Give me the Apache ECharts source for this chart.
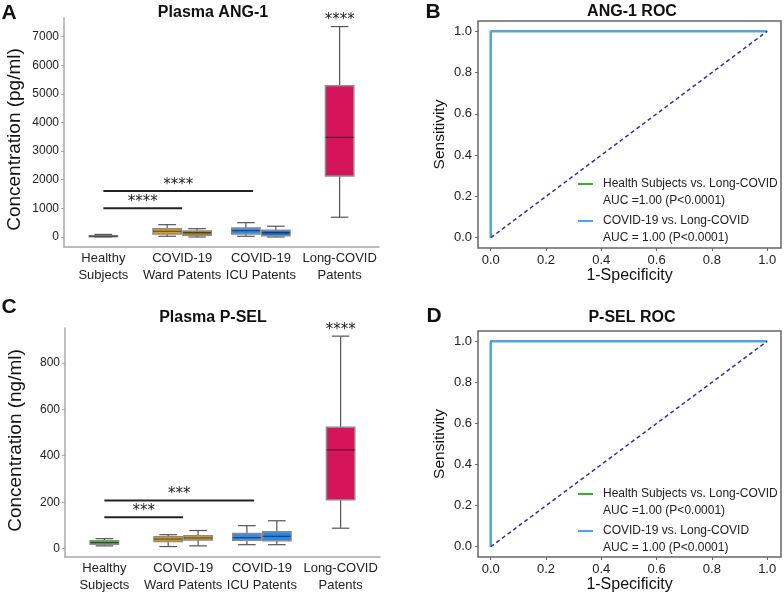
<!DOCTYPE html>
<html>
<head>
<meta charset="utf-8">
<script src="https://cdn.jsdelivr.net/npm/echarts@6/dist/echarts.min.js"></script>
<style>html,body{margin:0;padding:0;background:#fff}#c{width:784px;height:594px}</style>
</head>
<body>
<div id="c"></div>
<script>
// ---------------- data ----------------
const categories = ['Healthy\nSubjects', 'COVID-19\nWard Patents', 'COVID-19\nICU Patents', 'Long-COVID\nPatents'];
// box values: [min, Q1, median, Q3, max]
const ang1Healthy = [0, 10, 25, 45, 90];
const ang1Ward = [25, 105, 200, 290, 430];
const ang1WardB = [0, 60, 150, 210, 290];
const ang1Icu = [25, 105, 220, 315, 500];
const ang1IcuB = [0, 45, 150, 235, 375];
const ang1Long = [690, 2130, 3480, 5280, 7350];

const pselHealthy = [12, 19, 26, 34, 43];
const pselWard = [9, 31, 41, 51, 60];
const pselWardB = [12, 37, 46, 56, 78];
const pselIcu = [17, 36, 47, 65, 99];
const pselIcuB = [17, 34, 53, 73, 120];
const pselLong = [88, 210, 425, 523, 915];

const boxCategory = [0, 1, 1, 2, 2, 3];
const ang1Ticks = [0, 1000, 2000, 3000, 4000, 5000, 6000, 7000];
const pselTicks = [0, 200, 400, 600, 800];
const rocTicks = [0, 0.2, 0.4, 0.6, 0.8, 1.0];

// significance brackets: [fromCategory, toCategory, yValue]
const ang1Sig = [[0, 1, 1000], [0, 2, 1610]];
const ang1SigLabels = ['****', '****'];
const pselSig = [[0, 1, 135], [0, 2, 207]];
const pselSigLabels = ['***', '***'];
const ang1BoxStars = ['', '', '', '', '', '****'];
const pselBoxStars = ['', '', '', '', '', '****'];

// ROC curves [1-specificity, sensitivity]
const rocHealthyAng1 = [[0, 0], [0, 1], [1, 1]];
const rocCovidAng1 = [[0, 0], [0, 1], [1, 1]];
const rocHealthyPsel = [[0, 0], [0, 1], [1, 1]];
const rocCovidPsel = [[0, 0], [0, 1], [1, 1]];
const chanceLine = [[0, 0], [1, 1]];
const rocNames = ['Health Subjects vs. Long-COVID', 'COVID-19 vs. Long-COVID'];
const aucAng1 = ['AUC =1.00 (P<0.0001)', 'AUC = 1.00 (P<0.0001)'];
const aucPsel = ['AUC =1.00 (P<0.0001)', 'AUC = 1.00 (P<0.0001)'];

// ---------------- styling ----------------
const FONT = 'Liberation Sans';
const boxOffsets = [0, -0.19, 0.19, -0.19, 0.19, 0];
const sigEndInset = [0, 0.1];
const ang1Colors = ['#3db02a', '#e0a214', '#a27a1c', '#2e8cf0', '#1f6fce', '#d6145a'];
const pselColors = ['#3db02a', '#e0a214', '#dc9e18', '#2e8cf0', '#2a86e8', '#d6145a'];
const GREEN = '#35b323', BLUE = '#4ea1f5';

function boxData(groups) {
  return groups.map((g, i) => [boxCategory[i]].concat(g));
}

function boxRender(colors, stars) {
  return function (params, api) {
    const i = params.dataIndex;
    const cat = api.value(0);
    const band = api.size([1, 0])[0];
    const cx = api.coord([cat, 0])[0] + boxOffsets[i] * band;
    const w = band * 0.36, cap = w * 0.62;
    const py = k => api.coord([cat, api.value(k)])[1];
    const yMin = py(1), yQ1 = py(2), yMed = py(3), yQ3 = py(4), yMax = py(5);
    const ls = { stroke: '#555', lineWidth: 1.2 };
    const ch = [
      { type: 'line', shape: { x1: cx, y1: yMax, x2: cx, y2: yQ3 }, style: ls },
      { type: 'line', shape: { x1: cx, y1: yQ1, x2: cx, y2: yMin }, style: ls },
      { type: 'line', shape: { x1: cx - cap / 2, y1: yMax, x2: cx + cap / 2, y2: yMax }, style: ls },
      { type: 'line', shape: { x1: cx - cap / 2, y1: yMin, x2: cx + cap / 2, y2: yMin }, style: ls },
      { type: 'rect', shape: { x: cx - w / 2, y: yQ3, width: w, height: Math.max(yQ1 - yQ3, 1) },
        style: { fill: colors[i], stroke: '#8c8c8c', lineWidth: 1.5 } },
      { type: 'line', shape: { x1: cx - w / 2, y1: yMed, x2: cx + w / 2, y2: yMed },
        style: { stroke: 'rgba(0,0,0,0.5)', lineWidth: 1.2 } }
    ];
    if (stars[i]) {
      ch.push({ type: 'text', style: { text: stars[i], x: cx, y: yMax - 6, align: 'center',
        verticalAlign: 'middle', font: '15px "DejaVu Sans"', fill: '#222' } });
    }
    return { type: 'group', children: ch };
  };
}

function sigRender(labels) {
  return function (params, api) {
    const i = params.dataIndex;
    const band = api.size([1, 0])[0];
    const x1 = api.coord([api.value(0), 0])[0];
    const x2 = api.coord([api.value(1), 0])[0] - sigEndInset[i] * band;
    const y = api.coord([api.value(0), api.value(2)])[1];
    return { type: 'group', children: [
      { type: 'line', shape: { x1: x1, y1: y, x2: x2, y2: y }, style: { stroke: '#222', lineWidth: 2 } },
      { type: 'text', style: { text: labels[i], x: (x1 + x2) / 2, y: y - 6, align: 'center',
        verticalAlign: 'middle', font: '15px "DejaVu Sans"', fill: '#222' } }
    ] };
  };
}

function catAxis(gi) {
  return {
    type: 'category', gridIndex: gi, data: categories,
    axisLine: { onZero: false, lineStyle: { color: '#a8a8a8', width: 1.5 } },
    axisTick: { alignWithLabel: true, length: 4, lineStyle: { color: '#a8a8a8' } },
    axisLabel: { interval: 0, color: '#222', fontFamily: FONT, fontSize: 13, lineHeight: 17, margin: 3 },
    splitLine: { show: false }
  };
}
function valAxis(gi, min, max, ticks, name, pad) {
  return {
    type: 'value', gridIndex: gi, min: min, max: max,
    name: name, nameLocation: 'middle', nameGap: 40,
    nameTextStyle: { fontFamily: FONT, fontSize: 19, color: '#111', padding: pad },
    axisLine: { show: true, onZero: false, lineStyle: { color: '#a8a8a8', width: 1.5 } },
    axisTick: { show: true, length: 3, customValues: ticks, lineStyle: { color: '#a8a8a8' } },
    axisLabel: { customValues: ticks, formatter: v => String(v), color: '#222', fontFamily: FONT, fontSize: 12, margin: 5 },
    splitLine: { show: false }
  };
}
function rocX(gi) {
  return {
    type: 'value', gridIndex: gi, min: -0.046, max: 1.05,
    name: '1-Specificity', nameLocation: 'middle', nameGap: 19,
    nameTextStyle: { fontFamily: FONT, fontSize: 16, color: '#111' },
    axisLine: { show: false, onZero: false },
    axisTick: { show: true, length: 3, customValues: rocTicks, lineStyle: { color: '#666' } },
    axisLabel: { customValues: rocTicks, formatter: v => v.toFixed(1), color: '#222', fontFamily: FONT, fontSize: 13, margin: 6 },
    splitLine: { show: false }
  };
}
function rocY(gi) {
  return {
    type: 'value', gridIndex: gi, min: -0.05, max: 1.05,
    name: 'Sensitivity', nameLocation: 'middle', nameGap: 30,
    nameTextStyle: { fontFamily: FONT, fontSize: 15.5, color: '#111' },
    axisLine: { show: false, onZero: false },
    axisTick: { show: true, length: 3, customValues: rocTicks, lineStyle: { color: '#666' } },
    axisLabel: { customValues: rocTicks, formatter: v => v.toFixed(1), color: '#222', fontFamily: FONT, fontSize: 13, margin: 6 },
    splitLine: { show: false }
  };
}
const legendIcon = 'path://M0,0M0,34M0,7.5L15,7.5L15,9.5L0,9.5Z';
function rocLegend(left, top, auc) {
  return {
    left: left, top: top, orient: 'vertical', itemGap: 3, itemWidth: 15, itemHeight: 34, padding: 0,
    selectedMode: false, icon: legendIcon, data: rocNames,
    itemStyle: { borderWidth: 0 },
    formatter: name => name + '\n' + auc[rocNames.indexOf(name)],
    textStyle: { fontFamily: FONT, fontSize: 12, lineHeight: 17, color: '#222', padding: [0, 0, 0, 5] }
  };
}
function rocSeries(gi, healthy, covid) {
  return [
    { type: 'line', name: rocNames[0], xAxisIndex: gi, yAxisIndex: gi, data: healthy, color: GREEN,
      showSymbol: false, lineStyle: { width: 2, color: GREEN }, silent: true, animation: false },
    { type: 'line', name: rocNames[1], xAxisIndex: gi, yAxisIndex: gi, data: covid, color: BLUE,
      showSymbol: false, lineStyle: { width: 2, color: BLUE }, silent: true, animation: false },
    { type: 'line', xAxisIndex: gi, yAxisIndex: gi, data: chanceLine, showSymbol: false,
      lineStyle: { width: 1.5, color: '#2f2fa6', type: [4, 3] }, silent: true, animation: false }
  ];
}

function textG(t, x, y, size, bold) {
  return { type: 'text', x: x, y: y, style: { text: t, align: 'center', verticalAlign: 'middle',
    font: (bold ? 'bold ' : '') + size + 'px "' + FONT + '"', fill: '#111' } };
}

const option = {
  animation: false,
  grid: [
    { left: 64, top: 18, width: 315, height: 229 },
    { left: 65, top: 328, width: 315, height: 229 },
    { left: 478, top: 21, width: 303, height: 227, show: true, borderColor: '#666', borderWidth: 1.5 },
    { left: 478, top: 331, width: 303, height: 226, show: true, borderColor: '#666', borderWidth: 1.5 }
  ],
  xAxis: [catAxis(0), catAxis(1), rocX(2), rocX(3)],
  yAxis: [
    valAxis(0, -350, 7650, ang1Ticks, 'Concentration (pg/ml)', [0, 14, 0, 0]),
    valAxis(1, -36, 950, pselTicks, 'Concentration (ng/ml)', [0, 0, 0, 4]),
    rocY(2), rocY(3)
  ],
  legend: [rocLegend(578, 175.5, aucAng1), rocLegend(578, 485.5, aucPsel)],
  graphic: [
    textG('A', 9, 13, 21, true), textG('Plasma ANG-1', 213, 13, 16, true),
    textG('C', 9, 307, 21, true), textG('Plasma P-SEL', 213, 318, 16, true),
    textG('B', 433, 12, 21, true), textG('ANG-1 ROC', 632, 12, 16, true),
    textG('D', 434, 316, 21, true), textG('P-SEL ROC', 632, 318, 16, true)
  ],
  series: [
    { type: 'custom', xAxisIndex: 0, yAxisIndex: 0, renderItem: boxRender(ang1Colors, ang1BoxStars),
      encode: { x: 0, y: [1, 2, 3, 4, 5] },
      data: boxData([ang1Healthy, ang1Ward, ang1WardB, ang1Icu, ang1IcuB, ang1Long]), silent: true },
    { type: 'custom', xAxisIndex: 0, yAxisIndex: 0, renderItem: sigRender(ang1SigLabels),
      encode: { x: 0, y: 2 }, data: ang1Sig, silent: true },
    { type: 'custom', xAxisIndex: 1, yAxisIndex: 1, renderItem: boxRender(pselColors, pselBoxStars),
      encode: { x: 0, y: [1, 2, 3, 4, 5] },
      data: boxData([pselHealthy, pselWard, pselWardB, pselIcu, pselIcuB, pselLong]), silent: true },
    { type: 'custom', xAxisIndex: 1, yAxisIndex: 1, renderItem: sigRender(pselSigLabels),
      encode: { x: 0, y: 2 }, data: pselSig, silent: true }
  ].concat(rocSeries(2, rocHealthyAng1, rocCovidAng1), rocSeries(3, rocHealthyPsel, rocCovidPsel))
};

const chart = echarts.init(document.getElementById('c'), null, { renderer: 'canvas' });
chart.setOption(option);
</script>
</body>
</html>
